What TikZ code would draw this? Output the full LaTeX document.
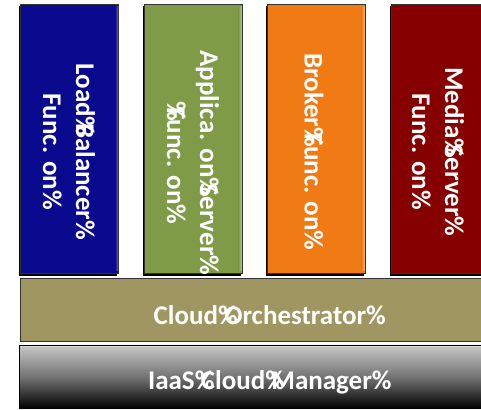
\documentclass[tikz,border=0pt]{standalone}
\usepackage{fontspec}
\setmainfont{Carlito}
\usetikzlibrary{shadows}
\definecolor{lbblue}{RGB}{10,10,142}
\definecolor{asgreen}{RGB}{127,155,72}
\definecolor{brorange}{RGB}{240,122,20}
\definecolor{msred}{RGB}{135,0,0}
\definecolor{orkhaki}{RGB}{160,150,98}
% a percent sign that advances only by a word space
\newcommand{\pctgap}{\makebox[0.226em][l]{\%}}
\tikzset{
  tile/.style={rectangle, inner sep=0pt, outer sep=0pt, draw=black!80, line width=0.8pt,
    minimum width=98pt, minimum height=269pt,
    drop shadow={shadow xshift=-1.5pt, shadow yshift=-2.5pt, opacity=1, fill=black}},
  band/.style={rectangle, inner sep=0pt, outer sep=0pt, draw=black!80, line width=0.8pt,
    minimum width=490pt, minimum height=63pt},
  vlabel/.style={rotate=-90, align=center, text=white,
    font=\bfseries\fontsize{27}{33}\selectfont},
  hlabel/.style={anchor=base, text=white, font=\bfseries\fontsize{27}{33}\selectfont}
}
\begin{document}
\begin{tikzpicture}[x=1pt,y=-1pt]
\useasboundingbox (0,0) rectangle (481,409);
\fill[white] (0,0) rectangle (481,409);

% function tiles
\node[tile, fill=lbblue]   (lb) at (69.5,138.5)  {};
\node[tile, fill=asgreen]  (as) at (193,138.5)   {};
\node[tile, fill=brorange] (br) at (316,138.5)   {};
\node[tile, fill=msred]    (ms) at (440,138.5)   {};

% bevel highlights on the right edges
\foreach \t/\c in {lb/lbblue, as/asgreen, br/brorange, ms/msred}{
  \shade[left color=\c, right color=\c!60!white]
    ([xshift=-3.5pt,yshift=-3pt]\t.north east) rectangle ([xshift=-0.4pt,yshift=3pt]\t.south east);
}

\node[vlabel] (lbt) at (69,145)  {Load\pctgap Balancer\pctgap\\Func. on\pctgap};
\node[vlabel] (ast) at (193,156) {Applica. on\pctgap Server\pctgap\\\pctgap Func. on\pctgap};
\node[vlabel] (brt) at (314,145) {Broker\pctgap Func. on\pctgap};
\node[vlabel] (mst) at (438,145) {Media\pctgap Server\pctgap\\Func. on\pctgap};

% orchestration layer
\node[band, fill=orkhaki] (orc) at (265,310) {};
\node[hlabel] (orct) at (263,324) {Cloud\pctgap Orchestrator\pctgap};

% infrastructure layer
\node[band, draw=black, top color=black!22, bottom color=black, middle color=black!55] (iaas) at (264.5,377) {};
\draw[white!85!black, line width=1pt] ([xshift=1pt,yshift=-1pt]iaas.north west) -- ([yshift=-1pt]iaas.north east);
\node[hlabel] (iaast) at (263,389) {IaaS\pctgap Cloud\pctgap Manager\pctgap};
\end{tikzpicture}
\end{document}
